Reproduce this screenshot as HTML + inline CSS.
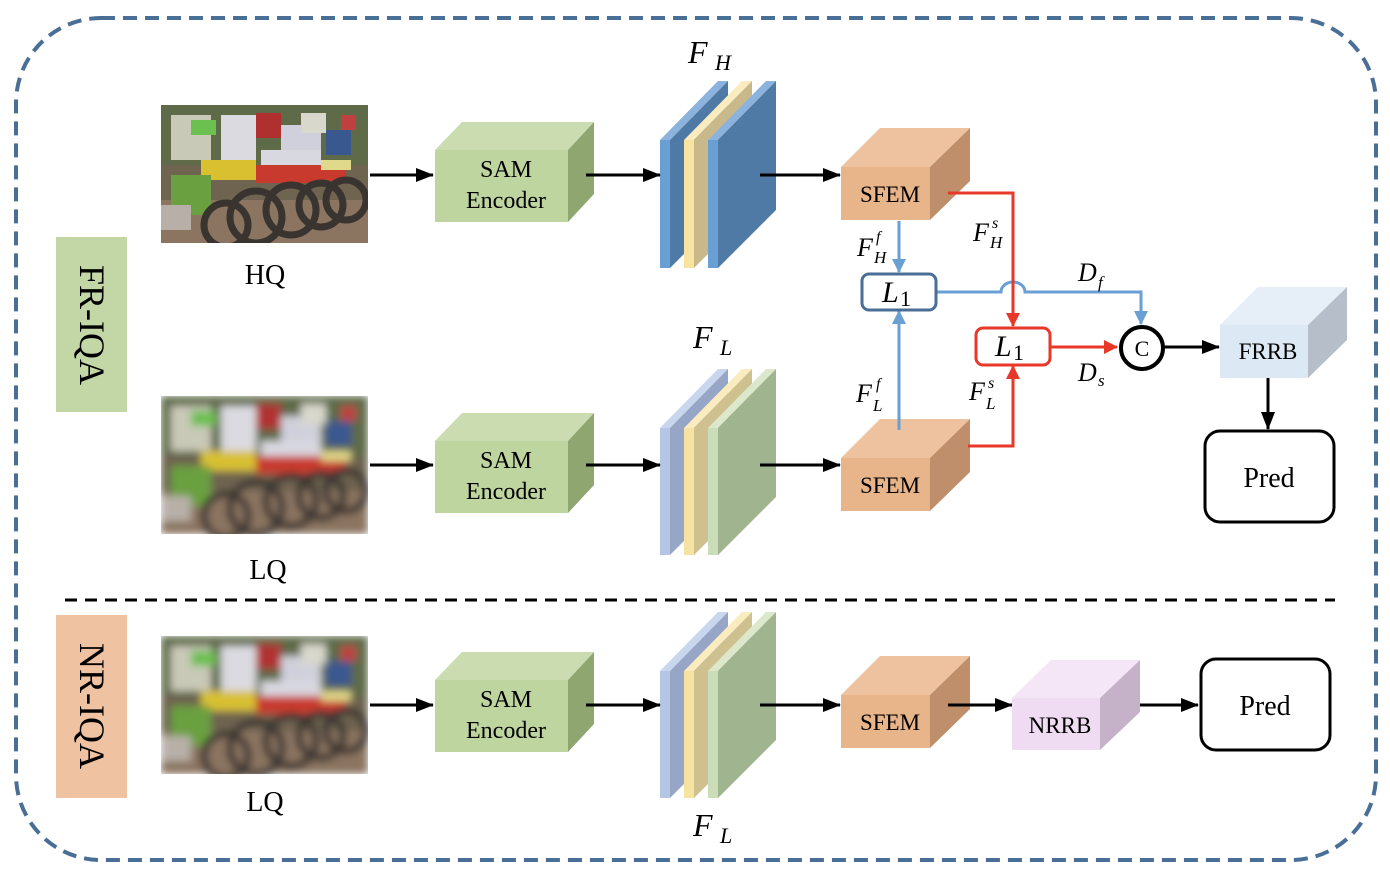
<!DOCTYPE html>
<html><head><meta charset="utf-8"><style>
html,body{margin:0;padding:0;background:#fff}
svg{display:block}
</style></head><body>
<svg width="1390" height="874" viewBox="0 0 1390 874" xmlns="http://www.w3.org/2000/svg" font-family="Liberation Serif, serif">
<defs>
<marker id="ab" markerWidth="14" markerHeight="14" refX="13" refY="7" orient="auto" markerUnits="userSpaceOnUse"><path d="M0,0 L14,7 L0,14 z" fill="#6a9fd4"/></marker>
<marker id="ar" markerWidth="14" markerHeight="14" refX="13" refY="7" orient="auto" markerUnits="userSpaceOnUse"><path d="M0,0 L14,7 L0,14 z" fill="#e8382a"/></marker>
<marker id="ak2" markerWidth="18" markerHeight="14" refX="17" refY="7" orient="auto" markerUnits="userSpaceOnUse"><path d="M0,0 L18,7 L0,14 z" fill="#000"/></marker>
<filter id="bl"><feGaussianBlur stdDeviation="4"/></filter>
<clipPath id="ic"><rect x="0" y="0" width="207" height="138"/></clipPath>
<g id="img">
<rect width="207" height="138" fill="#6e6450"/>
<rect x="0" y="0" width="207" height="60" fill="#5e6a48"/>
<rect x="0" y="95" width="207" height="43" fill="#8b7561"/>
<rect x="10" y="10" width="40" height="45" fill="#c9c9b8"/>
<rect x="60" y="10" width="35" height="50" fill="#dadae0"/>
<rect x="95" y="8" width="25" height="25" fill="#b03030"/>
<rect x="120" y="20" width="40" height="30" fill="#d0d0dc"/>
<rect x="140" y="8" width="25" height="20" fill="#d8d8cc"/>
<rect x="165" y="25" width="25" height="25" fill="#3a5890"/>
<rect x="180" y="10" width="15" height="15" fill="#c04040"/>
<rect x="30" y="15" width="25" height="15" fill="#6cc050"/>
<rect x="40" y="55" width="55" height="20" fill="#d8c030"/>
<rect x="95" y="60" width="90" height="18" fill="#c83a2e"/>
<rect x="160" y="55" width="30" height="10" fill="#e0d88a"/>
<rect x="10" y="70" width="40" height="40" fill="#6aa040"/>
<rect x="100" y="45" width="60" height="15" fill="#d8d8e0"/>
<g fill="none" stroke="#3a3430" stroke-width="7">
<circle cx="95" cy="112" r="26"/><circle cx="130" cy="105" r="25"/><circle cx="160" cy="100" r="22"/><circle cx="185" cy="95" r="20"/><circle cx="65" cy="120" r="22"/>
</g>
<rect x="0" y="100" width="30" height="25" fill="#b8b0a8"/>
</g>
</defs>

<rect x="16" y="18" width="1360" height="842" rx="85" ry="85" fill="none" stroke="#4a6f96" stroke-width="4" stroke-dasharray="14,8"/>

<rect x="56" y="237" width="71" height="175" fill="#c3d6a6"/>
<text transform="translate(80,325) rotate(90)" font-size="36" text-anchor="middle" fill="#000">FR-IQA</text>
<rect x="56" y="615" width="71" height="183" fill="#efc2a1"/>
<text transform="translate(80,706) rotate(90)" font-size="36" text-anchor="middle" fill="#000">NR-IQA</text>

<g transform="translate(161,105)" clip-path="url(#ic)"><use href="#img"/></g>
<g transform="translate(161,396)" clip-path="url(#ic)"><g filter="url(#bl)"><use href="#img"/></g></g>
<g transform="translate(161,636)" clip-path="url(#ic)"><g filter="url(#bl)"><use href="#img"/></g></g>
<text x="265" y="284" font-size="28" text-anchor="middle">HQ</text>
<text x="268" y="579" font-size="28" text-anchor="middle">LQ</text>
<text x="265" y="811" font-size="28" text-anchor="middle">LQ</text>

<g id="sam">
<polygon points="435,150 462,122 594,122 568,150" fill="#cadcb0"/>
<polygon points="568,150 594,122 594,194 568,222" fill="#8fa670"/>
<rect x="435" y="150" width="133" height="72" fill="#bfd59f"/>
<text x="506" y="177" font-size="24" text-anchor="middle" font-family="Liberation Serif, serif">SAM</text>
<text x="506" y="208" font-size="24" text-anchor="middle" font-family="Liberation Serif, serif">Encoder</text>
</g>
<use href="#sam" transform="translate(0,291)"/>
<use href="#sam" transform="translate(0,530)"/>

<g>
<polygon points="660,140 718,81 728,81 670,140" fill="#8cb3de"/><polygon points="670,140 728,81 728,210 670,268" fill="#4f7aa5"/><rect x="660" y="140" width="10" height="128" fill="#6a9fd4"/>
<polygon points="684,140 742,81 752,81 694,140" fill="#fbecc0"/><polygon points="694,140 752,81 752,210 694,268" fill="#c9b98a"/><rect x="684" y="140" width="10" height="128" fill="#f8e3a0"/>
<polygon points="708,140 766,81 776,81 718,140" fill="#8cb3de"/><polygon points="718,140 776,81 776,210 718,268" fill="#4f7aa5"/><rect x="708" y="140" width="10" height="128" fill="#6a9fd4"/>
</g>
<g id="stk2">
<polygon points="660,428 718,369 728,369 670,428" fill="#c8d6ee"/><polygon points="670,428 728,369 728,497 670,555" fill="#97a6c6"/><rect x="660" y="428" width="10" height="127" fill="#b4c6e4"/>
<polygon points="684,428 742,369 752,369 694,428" fill="#fbecc0"/><polygon points="694,428 752,369 752,497 694,555" fill="#cfc08f"/><rect x="684" y="428" width="10" height="127" fill="#f7e3a1"/>
<polygon points="708,428 766,369 776,369 718,428" fill="#dbe8cc"/><polygon points="718,428 776,369 776,497 718,555" fill="#a0b48f"/><rect x="708" y="428" width="10" height="127" fill="#cbdcb8"/>
</g>
<use href="#stk2" transform="translate(0,243)"/>
<g font-style="italic">
<text x="688" y="63" font-size="32">F</text><text x="715" y="70" font-size="22">H</text>
<text x="693" y="348" font-size="32">F</text><text x="720" y="355" font-size="22">L</text>
<text x="693" y="836" font-size="32">F</text><text x="720" y="843" font-size="22">L</text>
</g>

<g id="sfem">
<polygon points="841,167 880,128 970,128 930,167" fill="#eec29e"/>
<polygon points="930,167 970,128 970,181 930,220" fill="#bf8f6b"/>
<rect x="841" y="167" width="89" height="53" fill="#e8b48a"/>
<text x="890" y="202" font-size="23" text-anchor="middle" font-family="Liberation Serif, serif">SFEM</text>
</g>
<use href="#sfem" transform="translate(0,291)"/>
<use href="#sfem" transform="translate(0,528)"/>

<g stroke="#000" stroke-width="3" fill="none" marker-end="url(#ak2)">
<line x1="370" y1="175" x2="433" y2="175"/><line x1="586" y1="175" x2="660" y2="175"/><line x1="760" y1="175" x2="840" y2="175"/>
<line x1="370" y1="465" x2="433" y2="465"/><line x1="586" y1="465" x2="660" y2="465"/><line x1="760" y1="465" x2="840" y2="465"/>
<line x1="370" y1="705" x2="433" y2="705"/><line x1="586" y1="705" x2="660" y2="705"/><line x1="760" y1="705" x2="840" y2="705"/>
<line x1="948" y1="705" x2="1012" y2="705"/><line x1="1118" y1="705" x2="1198" y2="705"/>
<line x1="1164" y1="347" x2="1219" y2="347"/><line x1="1268" y1="378" x2="1268" y2="429"/>
</g>

<g stroke="#6a9fd4" stroke-width="3" fill="none">
<line x1="899" y1="221" x2="899" y2="272" marker-end="url(#ab)"/>
<line x1="899" y1="430" x2="899" y2="311" marker-end="url(#ab)"/>
<path d="M936,292 L1001,292 A12,10 0 0 1 1025,292 L1141,292 L1141,324" marker-end="url(#ab)"/>
</g>
<g stroke="#e8382a" stroke-width="3" fill="none">
<path d="M948,193 L1013,193 L1013,326" marker-end="url(#ar)"/>
<path d="M968,446 L1013,446 L1013,366" marker-end="url(#ar)"/>
<line x1="1050" y1="347" x2="1117" y2="347" marker-end="url(#ar)"/>
</g>
<rect x="862" y="274" width="74" height="36" rx="7" fill="#fff" stroke="#4a6f96" stroke-width="3"/>
<text x="882" y="302" font-size="30" font-style="italic">L</text><text x="900" y="306" font-size="22">1</text>
<rect x="976" y="328" width="74" height="37" rx="7" fill="#fff" stroke="#e8382a" stroke-width="3"/>
<text x="995" y="356" font-size="30" font-style="italic">L</text><text x="1013" y="360" font-size="22">1</text>
<circle cx="1142" cy="348" r="21" fill="#fff" stroke="#000" stroke-width="4"/>
<text x="1142" y="356" font-size="22" text-anchor="middle">C</text>

<g font-style="italic">
<text x="857" y="256" font-size="26">F</text><text x="876" y="242" font-size="16">f</text><text x="874" y="263" font-size="17">H</text>
<text x="973" y="241" font-size="26">F</text><text x="992" y="228" font-size="16">s</text><text x="990" y="248" font-size="17">H</text>
<text x="1078" y="281" font-size="26">D</text><text x="1098" y="288" font-size="17">f</text>
<text x="1078" y="381" font-size="26">D</text><text x="1098" y="386" font-size="17">s</text>
<text x="856" y="402" font-size="26">F</text><text x="876" y="389" font-size="16">f</text><text x="873" y="411" font-size="17">L</text>
<text x="969" y="400" font-size="26">F</text><text x="988" y="388" font-size="16">s</text><text x="986" y="409" font-size="17">L</text>
</g>

<polygon points="1220,325 1258,287 1347,287 1308,325" fill="#e6eef7"/>
<polygon points="1308,325 1347,287 1347,340 1308,378" fill="#b6bfc9"/>
<rect x="1220" y="325" width="88" height="53" fill="#dce8f4"/>
<text x="1268" y="359" font-size="23" text-anchor="middle">FRRB</text>
<rect x="1205" y="431" width="129" height="91" rx="15" fill="#fff" stroke="#000" stroke-width="3"/>
<text x="1269" y="487" font-size="28" text-anchor="middle">Pred</text>

<polygon points="1012,698 1051,660 1140,660 1100,698" fill="#f4e6f6"/>
<polygon points="1100,698 1140,660 1140,712 1100,750" fill="#c6b2c8"/>
<rect x="1012" y="698" width="88" height="52" fill="#f0dcf2"/>
<text x="1060" y="733" font-size="23" text-anchor="middle">NRRB</text>
<rect x="1201" y="659" width="129" height="91" rx="15" fill="#fff" stroke="#000" stroke-width="3"/>
<text x="1265" y="715" font-size="28" text-anchor="middle">Pred</text>

<line x1="65" y1="600" x2="1335" y2="600" stroke="#000" stroke-width="3" stroke-dasharray="12,8"/>
</svg>
</body></html>
